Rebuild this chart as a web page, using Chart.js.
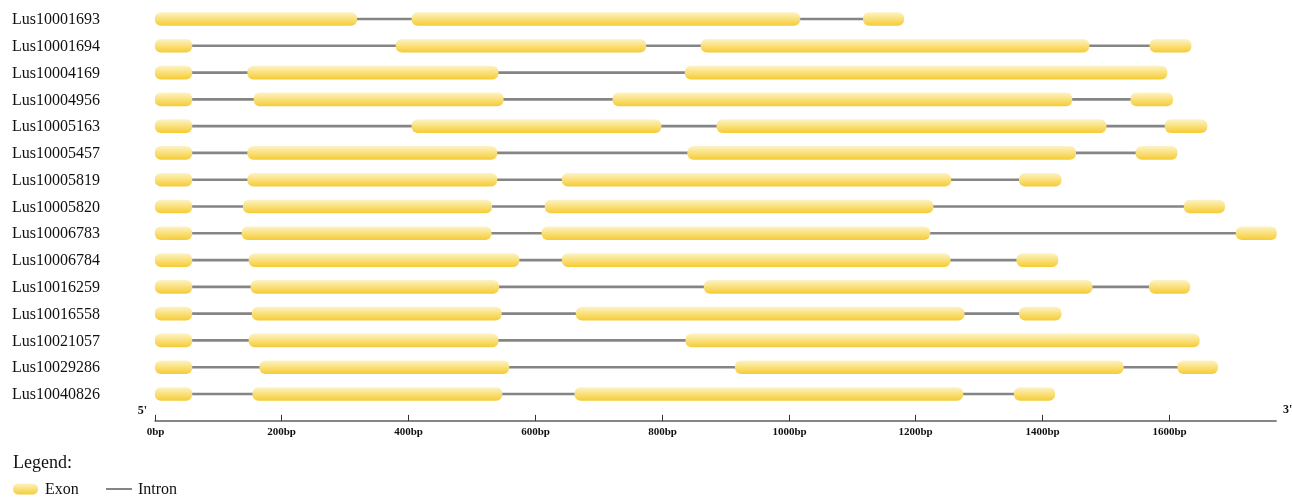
<!DOCTYPE html>
<html>
<head>
<meta charset="utf-8">
<script src="https://cdn.jsdelivr.net/npm/chart.js@4.4.1/dist/chart.umd.min.js"></script>
<style>
    html, body { margin: 0; padding: 0; background: #fff; }
    #wrap { width: 1292px; height: 498px; }
</style>
</head>
<body>
<div id="wrap"><canvas id="geneChart"></canvas></div>
<script>
var genes = ['Lus10001693', 'Lus10001694', 'Lus10004169', 'Lus10004956', 'Lus10005163',
    'Lus10005457', 'Lus10005819', 'Lus10005820', 'Lus10006783', 'Lus10006784',
    'Lus10016259', 'Lus10016558', 'Lus10021057', 'Lus10029286', 'Lus10040826'];

// exon positions in bp, [start, end], one array per exon number
var exon1 = [[1, 319], [1, 59], [1, 59], [1, 59], [1, 59], [1, 59], [1, 59], [1, 59],
    [1, 59], [1, 59], [1, 59], [1, 59], [1, 59], [1, 59], [1, 59]];
var exon2 = [[406, 1018], [381, 775], [147, 542], [157, 550], [406, 799], [147, 540], [147, 540], [140, 532],
    [138, 531], [149, 575], [152, 543], [154, 547], [149, 542], [166, 559], [155, 548]];
var exon3 = [[1118, 1182], [862, 1474], [837, 1597], [723, 1447], [887, 1501], [841, 1453], [643, 1256], [616, 1228],
    [611, 1223], [643, 1255], [867, 1479], [665, 1277], [838, 1648], [916, 1528], [663, 1275]];
var exon4 = [null, [1570, 1635], null, [1540, 1606], [1594, 1660], [1548, 1613], [1364, 1430], [1624, 1688],
    [1706, 1770], [1360, 1425], [1569, 1633], [1364, 1430], null, [1614, 1677], [1356, 1420]];

var tickValues = [0, 200, 400, 600, 800, 1000, 1200, 1400, 1600];
var tickLabels = ['0bp', '200bp', '400bp', '600bp', '800bp', '1000bp', '1200bp', '1400bp', '1600bp'];
var maxLength = 1770;

// intron line runs from the end of the first exon to the start of the last one
var introns = [];
for (var i = 0; i < genes.length; i++) {
    var last = exon4[i] || exon3[i];
    introns.push([exon1[i][1], last[0]]);
}

var serif = '"Liberation Serif", "Times New Roman", serif';

function exonGradient(ctx, yTop, h) {
    var g = ctx.createLinearGradient(0, yTop, 0, yTop + h);
    g.addColorStop(0, '#fdf2c2');
    g.addColorStop(0.45, '#fae282');
    g.addColorStop(1, '#f5cc38');
    return g;
}

function exonColor(c) {
    var chart = c.chart;
    if (!chart.chartArea || !chart.scales.y) {
        return '#f8d955';
    }
    var y = chart.scales.y.getPixelForValue(c.dataIndex);
    return exonGradient(chart.ctx, y - 6.5, 13);
}

function exonDataset(values) {
    return {
        data: values,
        backgroundColor: exonColor,
        borderWidth: 0,
        borderRadius: 6,
        borderSkipped: false,
        barThickness: 13,
        grouped: false,
        order: 0
    };
}

var decorPlugin = {
    id: 'decor',
    afterDraw: function(chart) {
        var ctx = chart.ctx;
        var xs = chart.scales.x;
        var ys = chart.scales.y;
        var area = chart.chartArea;
        ctx.save();

        // gene names
        ctx.fillStyle = '#111';
        ctx.font = '16px ' + serif;
        ctx.textAlign = 'left';
        ctx.textBaseline = 'middle';
        for (var i = 0; i < genes.length; i++) {
            ctx.fillText(genes[i], 12, ys.getPixelForValue(i) + 1);
        }

        // position axis
        var axisY = area.bottom + 13.5;
        var x0 = xs.getPixelForValue(0);
        var x1 = xs.getPixelForValue(maxLength);
        ctx.strokeStyle = '#858585';
        ctx.lineWidth = 2;
        ctx.beginPath();
        ctx.moveTo(x0, axisY);
        ctx.lineTo(x1, axisY);
        ctx.stroke();

        ctx.strokeStyle = '#333';
        ctx.lineWidth = 1;
        ctx.font = 'bold 11px ' + serif;
        ctx.textAlign = 'center';
        ctx.textBaseline = 'middle';
        for (var t = 0; t < tickValues.length; t++) {
            var tx = Math.round(xs.getPixelForValue(tickValues[t])) + 0.5;
            ctx.beginPath();
            ctx.moveTo(tx, axisY - 6);
            ctx.lineTo(tx, axisY);
            ctx.stroke();
            ctx.fillText(tickLabels[t], tx, axisY + 11);
        }

        ctx.font = 'bold 12px ' + serif;
        ctx.fillText("5'", x0 - 12, axisY - 10);
        ctx.fillText("3'", x1 + 11, axisY - 11);

        // legend
        ctx.textAlign = 'left';
        ctx.font = '18px ' + serif;
        ctx.fillText('Legend:', 13, 463);

        var ly = 489;
        ctx.fillStyle = exonGradient(ctx, ly - 5.5, 11);
        ctx.beginPath();
        ctx.roundRect(13, ly - 5.5, 25, 11, 5);
        ctx.fill();
        ctx.fillStyle = '#111';
        ctx.font = '16px ' + serif;
        ctx.fillText('Exon', 45, ly + 1);

        ctx.strokeStyle = '#858585';
        ctx.lineWidth = 2;
        ctx.beginPath();
        ctx.moveTo(106, ly);
        ctx.lineTo(132, ly);
        ctx.stroke();
        ctx.fillText('Intron', 138, ly + 1);

        ctx.restore();
    }
};

window.onload = function() {
    var ctx = document.getElementById('geneChart').getContext('2d');
    new Chart(ctx, {
        type: 'bar',
        data: {
            labels: genes,
            datasets: [
                exonDataset(exon1),
                exonDataset(exon2),
                exonDataset(exon3),
                exonDataset(exon4),
                {
                    data: introns,
                    backgroundColor: '#858585',
                    borderWidth: 0,
                    barThickness: 2,
                    grouped: false,
                    order: 5
                }
            ]
        },
        options: {
            indexAxis: 'y',
            responsive: true,
            maintainAspectRatio: false,
            animation: false,
            layout: {
                padding: { left: 154.5, right: 15.3, top: 5.6, bottom: 90.6 }
            },
            scales: {
                x: { type: 'linear', min: 0, max: maxLength, display: false },
                y: { display: false }
            },
            plugins: {
                legend: { display: false },
                tooltip: { enabled: false }
            }
        },
        plugins: [decorPlugin]
    });
};
</script>
</body>
</html>
